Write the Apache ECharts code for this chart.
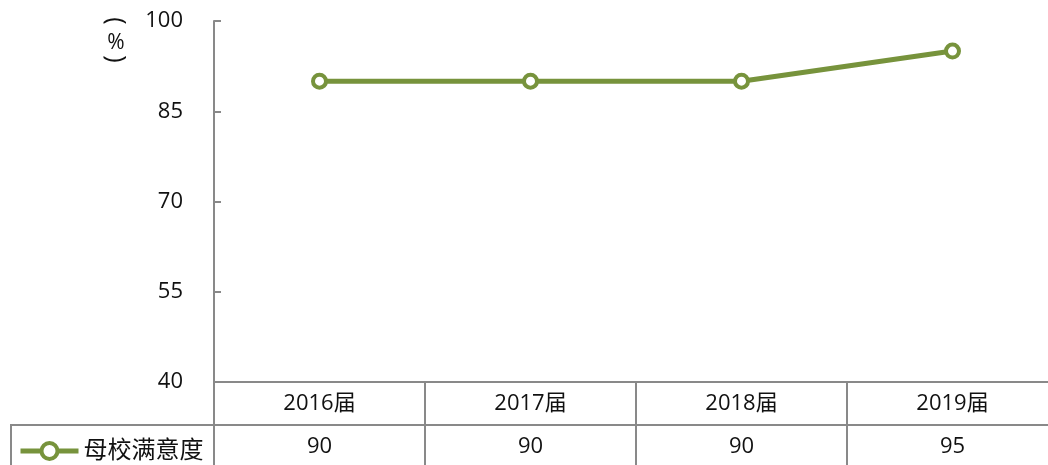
<!DOCTYPE html>
<html>
<head>
<meta charset="utf-8">
<script src="https://cdn.jsdelivr.net/npm/echarts@6/dist/echarts.min.js"></script>
<style>
  html, body { margin: 0; padding: 0; background: #fff; }
  #chart { width: 1048px; height: 465px; }
</style>
</head>
<body>
<div id="chart"></div>
<script>
var categories = ["2016届", "2017届", "2018届", "2019届"];
var seriesName = "母校满意度";
var satisfaction = [90, 90, 90, 95];
var yTicks = [40, 55, 70, 85, 100];

var lineColor = "#77933C";
var gridColor = "#898989";
var font = "Open Sans, Noto Sans CJK SC, sans-serif";

var chart = echarts.init(document.getElementById("chart"));
var option = {
  animation: false,
  grid: { left: 214, width: 844, top: 21, bottom: 83, outerBoundsMode: "none" },
  legend: {
    left: 13,
    top: 434,
    itemWidth: 58,
    itemHeight: 20,
    itemGap: 10,
    lineStyle: { width: 5, color: lineColor },
    itemStyle: { color: "#fff", borderColor: lineColor, borderWidth: 4 },
    textStyle: { fontSize: 24, color: "#111", fontFamily: font },
    data: [seriesName]
  },
  xAxis: [
    {
      type: "category",
      data: categories,
      axisLine: { lineStyle: { color: gridColor, width: 2 } },
      axisTick: { show: true, length: 84, lineStyle: { color: gridColor, width: 2 } },
      axisLabel: { color: "#111", fontSize: 22, margin: 11, fontFamily: font }
    },
    {
      type: "category",
      position: "bottom",
      offset: 43,
      data: satisfaction.map(String),
      axisLine: { show: false },
      axisTick: { show: false },
      axisLabel: { color: "#111", fontSize: 22, margin: 11, fontFamily: font }
    }
  ],
  yAxis: {
    type: "value",
    min: yTicks[0],
    max: yTicks[yTicks.length - 1],
    interval: 15,
    axisLine: { show: true, lineStyle: { color: gridColor, width: 2 } },
    axisTick: { show: true, inside: true, length: 7, lineStyle: { color: gridColor, width: 2 } },
    splitLine: { show: false },
    axisLabel: { color: "#111", fontSize: 22, margin: 31, fontFamily: font }
  },
  graphic: [
    {
      type: "line",
      shape: { x1: 10, y1: 425, x2: 1048, y2: 425 },
      style: { stroke: gridColor, lineWidth: 2 }
    },
    {
      type: "line",
      shape: { x1: 11, y1: 425, x2: 11, y2: 465 },
      style: { stroke: gridColor, lineWidth: 2 }
    },
    // unit label "（%）" written vertically: parentheses turned, % upright
    {
      type: "text",
      x: 115, y: 21,
      rotation: -Math.PI / 2,
      style: { text: "(", fontSize: 25, align: "center", verticalAlign: "middle", fill: "#111", fontFamily: font }
    },
    {
      type: "text",
      x: 116, y: 43,
      style: { text: "%", fontSize: 21, align: "center", verticalAlign: "middle", fill: "#111", fontFamily: font }
    },
    {
      type: "text",
      x: 115, y: 59,
      rotation: -Math.PI / 2,
      style: { text: ")", fontSize: 25, align: "center", verticalAlign: "middle", fill: "#111", fontFamily: font }
    }
  ],
  series: [
    {
      name: seriesName,
      type: "line",
      data: satisfaction,
      symbol: "circle",
      symbolSize: 13,
      lineStyle: { color: lineColor, width: 5 },
      itemStyle: { color: "#fff", borderColor: lineColor, borderWidth: 4 }
    }
  ]
};
chart.setOption(option);
</script>
</body>
</html>
